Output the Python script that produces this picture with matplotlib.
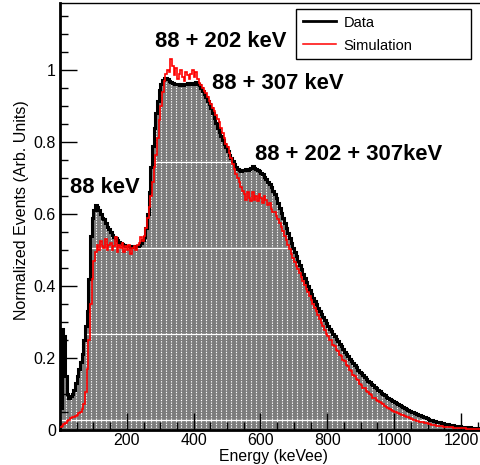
import numpy as np
import matplotlib
matplotlib.use("Agg")
import matplotlib.pyplot as plt
from matplotlib.lines import Line2D

plt.rcParams['font.family'] = ['Liberation Sans', 'DejaVu Sans']

bin_width = 5.0
data_values = [
    0.06, 0.28, 0.26, 0.15, 0.10, 0.09, 0.095, 0.10, 0.11, 0.13,
    0.15, 0.17, 0.19, 0.21, 0.25, 0.29, 0.33, 0.42, 0.54, 0.59,
    0.61, 0.625, 0.62, 0.61, 0.60, 0.59, 0.585, 0.575, 0.565, 0.557,
    0.55, 0.543, 0.537, 0.532, 0.527, 0.523, 0.52, 0.517, 0.515, 0.512,
    0.51, 0.51, 0.507, 0.51, 0.507, 0.51, 0.512, 0.515, 0.52, 0.527,
    0.535, 0.56, 0.60, 0.66, 0.73, 0.79, 0.84, 0.88, 0.915, 0.945,
    0.962, 0.972, 0.977, 0.978, 0.975, 0.97, 0.967, 0.964, 0.962, 0.96,
    0.96, 0.957, 0.96, 0.958, 0.962, 0.96, 0.964, 0.96, 0.963, 0.962,
    0.965, 0.966, 0.962, 0.957, 0.95, 0.942, 0.933, 0.924, 0.915, 0.905,
    0.893, 0.88, 0.867, 0.853, 0.84, 0.828, 0.817, 0.806, 0.795, 0.785,
    0.775, 0.765, 0.755, 0.746, 0.738, 0.731, 0.725, 0.721, 0.72, 0.721,
    0.722, 0.724, 0.723, 0.726, 0.729, 0.733, 0.728, 0.726, 0.722, 0.718,
    0.715, 0.71, 0.704, 0.697, 0.69, 0.682, 0.674, 0.665, 0.655, 0.644,
    0.63, 0.617, 0.603, 0.589, 0.575, 0.561, 0.547, 0.533, 0.519, 0.506,
    0.494, 0.482, 0.47, 0.458, 0.446, 0.434, 0.422, 0.411, 0.40, 0.389,
    0.378, 0.368, 0.358, 0.349, 0.34, 0.331, 0.322, 0.313, 0.305, 0.297,
    0.289, 0.281, 0.274, 0.267, 0.26, 0.253, 0.246, 0.239, 0.232, 0.225,
    0.218, 0.211, 0.205, 0.198, 0.192, 0.186, 0.18, 0.174, 0.168, 0.162,
    0.157, 0.152, 0.147, 0.142, 0.137, 0.132, 0.128, 0.124, 0.12, 0.116,
    0.112, 0.108, 0.104, 0.10, 0.097, 0.093, 0.09, 0.087, 0.084, 0.081,
    0.078, 0.075, 0.072, 0.069, 0.066, 0.063, 0.061, 0.058, 0.056, 0.053,
    0.051, 0.049, 0.047, 0.045, 0.043, 0.041, 0.039, 0.037, 0.035, 0.033,
    0.031, 0.029, 0.028, 0.026, 0.025, 0.023, 0.022, 0.021, 0.02, 0.019,
    0.018, 0.017, 0.016, 0.015, 0.014, 0.013, 0.012, 0.011, 0.0105, 0.01,
    0.0095, 0.009, 0.0085, 0.008, 0.0075, 0.007, 0.0065, 0.006, 0.0055, 0.005,
    0.0048, 0.0045,
]
sim_values = [
    0.008, 0.012, 0.016, 0.02, 0.024, 0.028, 0.032, 0.035, 0.037, 0.04,
    0.043, 0.046, 0.05, 0.058, 0.072, 0.105, 0.17, 0.25, 0.35, 0.42,
    0.47, 0.495, 0.515, 0.50, 0.525, 0.51, 0.505, 0.53, 0.50, 0.515,
    0.52, 0.50, 0.51, 0.535, 0.495, 0.515, 0.505, 0.52, 0.495, 0.51,
    0.50, 0.515, 0.49, 0.505, 0.51, 0.50, 0.515, 0.52, 0.535, 0.525,
    0.54, 0.56, 0.59, 0.62, 0.65, 0.69, 0.73, 0.765, 0.81, 0.86,
    0.90, 0.94, 0.97, 0.99, 1.0, 0.995, 1.03, 1.01, 0.985, 1.005,
    0.975, 0.99, 1.0, 0.98, 0.97, 0.995, 0.985, 0.975, 0.99, 1.0,
    0.98, 0.995, 0.975, 0.965, 0.958, 0.95, 0.942, 0.935, 0.925, 0.915,
    0.905, 0.895, 0.885, 0.875, 0.865, 0.855, 0.84, 0.825, 0.81, 0.795,
    0.785, 0.77, 0.755, 0.74, 0.725, 0.71, 0.70, 0.69, 0.675, 0.665,
    0.655, 0.64, 0.66, 0.645, 0.635, 0.66, 0.64, 0.65, 0.635, 0.655,
    0.645, 0.63, 0.65, 0.64, 0.625, 0.63, 0.615, 0.605, 0.605, 0.595,
    0.585, 0.575, 0.565, 0.553, 0.54, 0.528, 0.515, 0.503, 0.49, 0.478,
    0.467, 0.456, 0.446, 0.435, 0.425, 0.414, 0.404, 0.393, 0.383, 0.372,
    0.361, 0.351, 0.34, 0.33, 0.319, 0.309, 0.298, 0.288, 0.277, 0.268,
    0.262, 0.25, 0.249, 0.236, 0.234, 0.222, 0.219, 0.208, 0.205, 0.195,
    0.192, 0.181, 0.178, 0.166, 0.163, 0.152, 0.15, 0.141, 0.138, 0.129,
    0.126, 0.118, 0.116, 0.108, 0.106, 0.099, 0.097, 0.09, 0.089, 0.082,
    0.081, 0.077, 0.074, 0.071, 0.068, 0.065, 0.062, 0.059, 0.056, 0.053,
    0.051, 0.049, 0.047, 0.045, 0.043, 0.041, 0.039, 0.037, 0.035, 0.033,
    0.031, 0.029, 0.028, 0.026, 0.025, 0.023, 0.022, 0.021, 0.02, 0.019,
    0.017, 0.016, 0.015, 0.014, 0.013, 0.012, 0.011, 0.0105, 0.01, 0.0095,
    0.009, 0.0085, 0.008, 0.0075, 0.007, 0.0065, 0.006, 0.0058, 0.0055, 0.0052,
    0.005, 0.0047, 0.0044, 0.0041, 0.0038, 0.0035, 0.0032, 0.003, 0.0028, 0.0026,
    0.0025, 0.0024,
]
x_ticks = [200, 400, 600, 800, 1000, 1200]
y_ticks = [0, 0.2, 0.4, 0.6, 0.8, 1.0]
y_tick_labels = ["0", "0.2", "0.4", "0.6", "0.8", "1"]
annotations = [
    ("88 keV", 30, 0.658),
    ("88 + 202 keV", 285, 1.064),
    ("88 + 307 keV", 455, 0.947),
    ("88 + 202 + 307keV", 585, 0.75),
]

W, H = 481, 465
fig = plt.figure(figsize=(W / 100, H / 100), dpi=100)
ax = fig.add_axes([60 / W, 35 / H, 421 / W, 427 / H])

edges = np.arange(len(data_values) + 1) * bin_width
data = np.array(data_values)
sim = np.array(sim_values)

fill = ax.stairs(data, edges, fill=True, facecolor='#7c7c7c', edgecolor='none', zorder=1)
# ROOT-like fill pattern: white dotted verticals + white horizontals
for xv in np.arange(3, 1260, 15):
    ln = ax.axvline(xv, color='white', lw=0.8, ls=(0, (1.2, 1.2)), zorder=1.5)
    ln.set_clip_path(fill)
for yv in [0.0278, 0.2667, 0.5056, 0.7444, 0.983]:
    ln = ax.axhline(yv, color='white', lw=0.9, zorder=1.5)
    ln.set_clip_path(fill)

ax.stairs(data, edges, color='black', lw=2.2, zorder=3, baseline=None)
ax.stairs(sim, edges, color='red', lw=1.2, zorder=4, baseline=None)

ax.set_xlim(0, 1260)
ax.set_ylim(0, 1.186)

ax.set_xticks(x_ticks)
ax.set_xticklabels([str(v) for v in x_ticks])
ax.set_xticks(np.arange(0, 1261, 50), minor=True)
ax.set_yticks(y_ticks)
ax.set_yticklabels(y_tick_labels)
ax.set_yticks(np.arange(0, 1.186, 0.05), minor=True)
ax.tick_params(axis='both', which='major', direction='in', length=12, width=1, labelsize=11.5)
ax.tick_params(axis='both', which='minor', direction='in', length=6, width=1)
ax.tick_params(axis='y', pad=3)
ax.tick_params(axis='x', pad=2.5)
ax.tick_params(top=False, right=False, which='both')

for s in ['left', 'bottom']:
    ax.spines[s].set_linewidth(2)
ax.spines['top'].set_linewidth(1)
ax.spines['right'].set_visible(False)

ax.set_xlabel("Energy (keVee)", fontsize=11.3)
ax.xaxis.set_label_coords(0.506, -0.044)
ax.set_ylabel("Normalized Events (Arb. Units)", fontsize=11.5)
ax.yaxis.set_label_coords(-0.074, 0.515)

for txt, xe, ye in annotations:
    ax.text(xe, ye, txt, fontsize=15.8, fontweight='bold', ha='left', va='baseline', zorder=5)

handles = [Line2D([], [], color='black', lw=2), Line2D([], [], color='red', lw=1.1)]
leg = ax.legend(handles, ["Data", "Simulation"], loc='upper left',
                bbox_to_anchor=(296 / W, 1 - 9 / H, 175 / W, 0), bbox_transform=fig.transFigure,
                mode='expand', frameon=True, fancybox=False, edgecolor='black', framealpha=1,
                fontsize=10.5, handlelength=2.3, borderpad=0.45, labelspacing=0.62, handletextpad=0.5,
                borderaxespad=0)
leg.get_frame().set_linewidth(1)
leg.set_zorder(6)

fig.savefig("out.png", dpi=100)
